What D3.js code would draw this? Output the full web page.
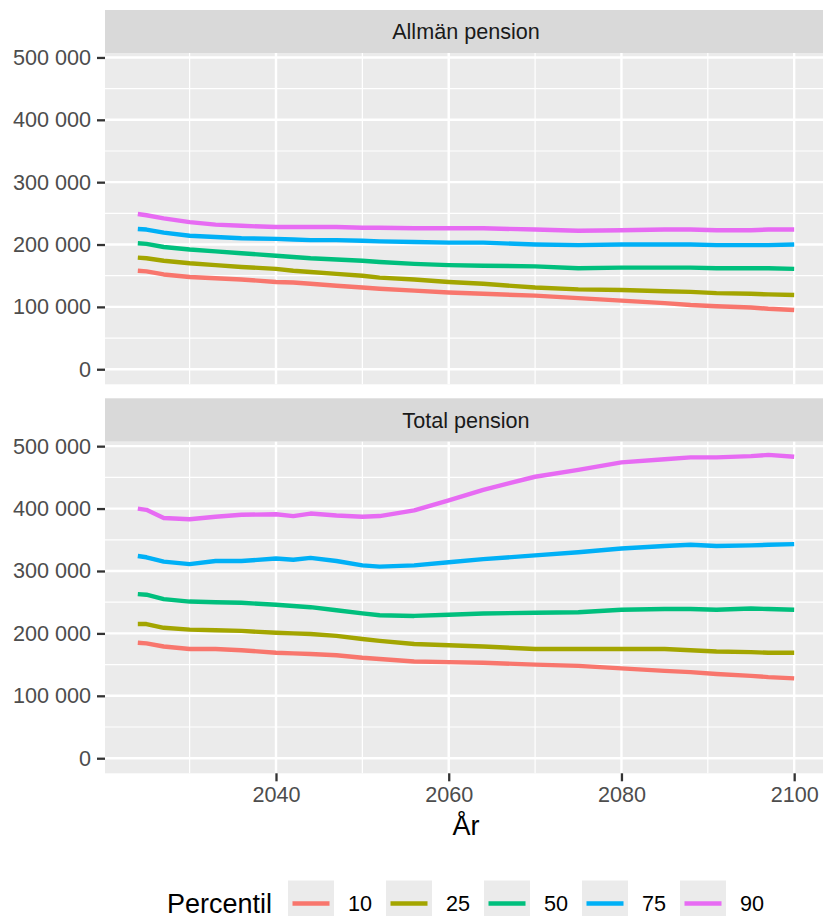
<!DOCTYPE html>
<html>
<head>
<meta charset="utf-8">
<script src="https://cdn.jsdelivr.net/npm/d3@7"></script>
<style>
  html, body { margin: 0; padding: 0; background: #fff; overflow: hidden; }
  svg { display: block; font-family: "Liberation Sans", Arial, sans-serif; }
</style>
</head>
<body>
<div id="chart"></div>
<script>
// Data (SEK per year, by percentile)
const years = [2024, 2025, 2027, 2030, 2033, 2036, 2040, 2042, 2044, 2047, 2050, 2052,
    2056, 2060, 2064, 2070, 2075, 2080, 2085, 2088, 2091, 2095, 2097, 2100];

const percentiles = ['10', '25', '50', '75', '90'];
const colors = ['#F8766D', '#A3A500', '#00BF7D', '#00B0F6', '#E76BF3'];

const panelNames = ['Allmän pension', 'Total pension'];

// Allmän pension
const allman10 = [158000, 157000, 152000, 148000, 146000, 144000, 140000, 139000, 137000, 134000, 131000, 129000,
    126000, 123000, 121000, 118000, 114000, 110000, 106000, 103000, 101000, 99000, 97000, 95000];
const allman25 = [179000, 178000, 174000, 170000, 167000, 164000, 161000, 158000, 156000, 153000, 150000, 147000,
    144000, 140000, 137000, 131000, 128000, 127000, 125000, 124000, 122000, 121000, 120000, 119000];
const allman50 = [202000, 201000, 196000, 192000, 189000, 186000, 182000, 180000, 178000, 176000, 174000, 172000,
    169000, 167000, 166000, 165000, 162000, 163000, 163000, 163000, 162000, 162000, 162000, 161000];
const allman75 = [225000, 224000, 219000, 214000, 212000, 210000, 209000, 208000, 207000, 207000, 206000, 205000,
    204000, 203000, 203000, 200000, 199000, 200000, 200000, 200000, 199000, 199000, 199000, 200000];
const allman90 = [249000, 247000, 242000, 236000, 232000, 230000, 228000, 228000, 228000, 228000, 227000, 227000,
    226000, 226000, 226000, 224000, 222000, 223000, 224000, 224000, 223000, 223000, 224000, 224000];

// Total pension
const total10 = [185000, 184000, 179000, 175000, 175000, 173000, 169000, 168000, 167000, 165000, 161000, 159000,
    155000, 154000, 153000, 150000, 148000, 144000, 140000, 138000, 135000, 132000, 130000, 128000];
const total25 = [215000, 215000, 209000, 206000, 205000, 204000, 201000, 200000, 199000, 196000, 191000, 188000,
    183000, 181000, 179000, 175000, 175000, 175000, 175000, 173000, 171000, 170000, 169000, 169000];
const total50 = [263000, 262000, 255000, 251000, 250000, 249000, 246000, 244000, 242000, 237000, 232000, 229000,
    228000, 230000, 232000, 233000, 234000, 238000, 239000, 239000, 238000, 240000, 239000, 238000];
const total75 = [324000, 322000, 315000, 311000, 316000, 316000, 320000, 318000, 321000, 316000, 309000, 307000,
    309000, 314000, 319000, 325000, 330000, 336000, 340000, 342000, 340000, 341000, 342000, 343000];
const total90 = [400000, 398000, 385000, 383000, 387000, 390000, 391000, 388000, 392000, 389000, 387000, 388000,
    397000, 413000, 430000, 451000, 462000, 474000, 479000, 482000, 482000, 484000, 486000, 483000];

const yTicks = [0, 100000, 200000, 300000, 400000, 500000];
const yMinor = [50000, 150000, 250000, 350000, 450000];
const xTicks = [2040, 2060, 2080, 2100];
const xMinor = [2030, 2050, 2070, 2090];

const panelSeries = [
    [allman10, allman25, allman50, allman75, allman90],
    [total10, total25, total50, total75, total90]
];

// Layout
const width = 823, height = 916;
const panelLeft = 105, panelRight = 827;
const panels = [
    {stripTop: 10, top: 53, bottom: 384.3},
    {stripTop: 398.3, top: 441.7, bottom: 773.3}
];
const tickSize = 21.6, titleSize = 27;

const locale = d3.formatLocale({decimal: ',', thousands: '\u00a0', grouping: [3], currency: ['', ' kr']});
const fmt = locale.format(',d');

const svg = d3.select('#chart').append('svg')
    .attr('width', width)
    .attr('height', height);

const x = d3.scaleLinear()
    .domain([2024 - 76 * 0.05, 2100 + 76 * 0.05])
    .range([panelLeft, panelRight]);

// shared y limits 0..483000 with ggplot's 5% expansion
const yMax = 483000;

panels.forEach((p, i) => {
    const y = d3.scaleLinear()
        .domain([-yMax * 0.05, yMax * 1.05])
        .range([p.bottom, p.top]);

    // strip
    svg.append('rect')
        .attr('x', panelLeft).attr('y', p.stripTop)
        .attr('width', panelRight - panelLeft).attr('height', p.top - p.stripTop)
        .attr('fill', '#D9D9D9');
    svg.append('text')
        .attr('x', (panelLeft + panelRight) / 2)
        .attr('y', (p.stripTop + p.top) / 2)
        .attr('dy', '0.35em')
        .attr('text-anchor', 'middle')
        .attr('font-size', tickSize)
        .attr('fill', '#1A1A1A')
        .text(panelNames[i]);

    // panel background
    svg.append('rect')
        .attr('x', panelLeft).attr('y', p.top)
        .attr('width', panelRight - panelLeft).attr('height', p.bottom - p.top)
        .attr('fill', '#EBEBEB');

    const g = svg.append('g');
    g.selectAll('.yminor').data(yMinor).enter().append('line')
        .attr('x1', panelLeft).attr('x2', panelRight)
        .attr('y1', d => y(d)).attr('y2', d => y(d))
        .attr('stroke', '#fff').attr('stroke-width', 1.2);
    g.selectAll('.xminor').data(xMinor).enter().append('line')
        .attr('y1', p.top).attr('y2', p.bottom)
        .attr('x1', d => x(d)).attr('x2', d => x(d))
        .attr('stroke', '#fff').attr('stroke-width', 1.2);
    g.selectAll('.ymajor').data(yTicks).enter().append('line')
        .attr('x1', panelLeft).attr('x2', panelRight)
        .attr('y1', d => y(d)).attr('y2', d => y(d))
        .attr('stroke', '#fff').attr('stroke-width', 2.4);
    g.selectAll('.xmajor').data(xTicks).enter().append('line')
        .attr('y1', p.top).attr('y2', p.bottom)
        .attr('x1', d => x(d)).attr('x2', d => x(d))
        .attr('stroke', '#fff').attr('stroke-width', 2.4);

    // y axis
    const yAxis = svg.append('g')
        .attr('transform', `translate(${panelLeft},0)`)
        .call(d3.axisLeft(y).tickValues(yTicks).tickFormat(fmt).tickSize(8).tickPadding(6));
    yAxis.select('.domain').remove();
    yAxis.selectAll('.tick line').attr('stroke', '#333333').attr('stroke-width', 2.3);
    yAxis.selectAll('.tick text')
        .attr('font-size', tickSize)
        .attr('font-family', '"Liberation Sans", Arial, sans-serif')
        .attr('fill', '#4D4D4D');

    // lines
    const line = d3.line()
        .x((d, k) => x(years[k]))
        .y(d => y(d));
    panelSeries[i].forEach((vals, s) => {
        svg.append('path')
            .datum(vals)
            .attr('d', line)
            .attr('fill', 'none')
            .attr('stroke', colors[s])
            .attr('stroke-width', 4.4)
            .attr('stroke-linejoin', 'round');
    });

    // x axis on bottom panel only
    if (i === panels.length - 1) {
        const xAxis = svg.append('g')
            .attr('transform', `translate(0,${p.bottom})`)
            .call(d3.axisBottom(x).tickValues(xTicks).tickFormat(d3.format('d')).tickSize(8).tickPadding(5));
        xAxis.select('.domain').remove();
        xAxis.selectAll('.tick line').attr('stroke', '#333333').attr('stroke-width', 2.3);
        xAxis.selectAll('.tick text')
            .attr('font-size', tickSize)
            .attr('font-family', '"Liberation Sans", Arial, sans-serif')
            .attr('fill', '#4D4D4D');
    }
});

// axis title
svg.append('text')
    .attr('x', (panelLeft + panelRight) / 2)
    .attr('y', 835)
    .attr('text-anchor', 'middle')
    .attr('font-size', titleSize)
    .attr('fill', '#000')
    .text('År');

// legend
const legendY = 903.5;
svg.append('text')
    .attr('x', 167)
    .attr('y', legendY)
    .attr('dy', '0.35em')
    .attr('font-size', titleSize)
    .attr('fill', '#000')
    .text('Percentil');

const legendX = d3.scaleBand()
    .domain(percentiles)
    .range([288, 288 + 98 * percentiles.length]);

const keys = svg.selectAll('.key').data(percentiles).enter().append('g')
    .attr('transform', d => `translate(${legendX(d)},${legendY})`);
keys.append('rect')
    .attr('x', 0).attr('y', -23)
    .attr('width', 46).attr('height', 46)
    .attr('fill', '#EBEBEB');
keys.append('line')
    .attr('x1', 4.5).attr('x2', 41.5)
    .attr('y1', 0).attr('y2', 0)
    .attr('stroke', (d, k) => colors[k])
    .attr('stroke-width', 4.4);
keys.append('text')
    .attr('x', 60)
    .attr('dy', '0.35em')
    .attr('font-size', tickSize)
    .attr('fill', '#000')
    .text(d => d);
</script>
</body>
</html>
